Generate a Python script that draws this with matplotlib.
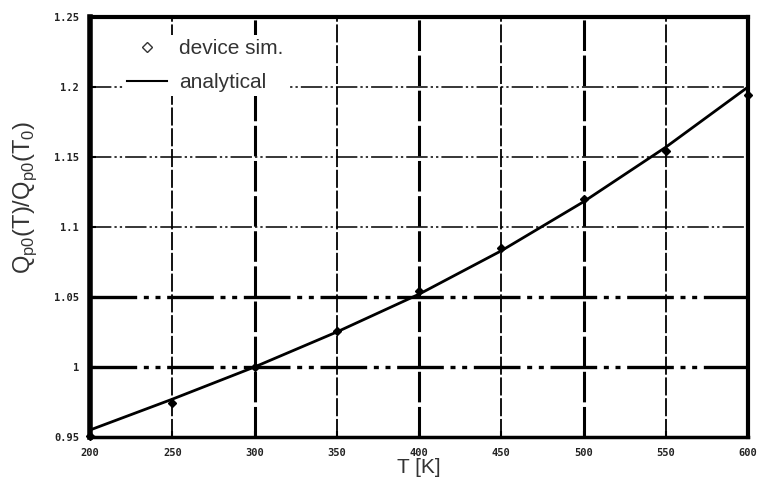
import matplotlib
matplotlib.use("Agg")
import matplotlib.pyplot as plt
from matplotlib.lines import Line2D

plt.rcParams["mathtext.fontset"] = "custom"
plt.rcParams["mathtext.rm"] = "Liberation Sans"

T_sim = [200, 250, 300, 350, 400, 450, 500, 550, 600]
Q_sim = [0.951, 0.974, 1.0, 1.0255, 1.054, 1.085, 1.12, 1.154, 1.194]

T_ana = [200, 250, 300, 350, 400, 450, 500, 550, 600]
Q_ana = [0.955, 0.977, 1.0, 1.025, 1.052, 1.083, 1.118, 1.157, 1.2]

x_ticks = [200, 250, 300, 350, 400, 450, 500, 550, 600]
y_ticks = [0.95, 1.0, 1.05, 1.1, 1.15, 1.2, 1.25]
y_labels = ["0.95", "1", "1.05", "1.1", "1.15", "1.2", "1.25"]

fig = plt.figure(figsize=(7.64, 4.84), dpi=100)
ax = fig.add_axes([90 / 764, 47 / 484, 658 / 764, 420 / 484])

ax.set_xlim(200, 600)
ax.set_ylim(0.95, 1.25)

# grid
for x in x_ticks[1:-1]:
    lw = 2.2 if x in (300, 400, 500) else 1.3
    ax.axvline(x, color="black", lw=lw, ls=(0, (10, 1.5)), zorder=1)
for y in y_ticks[1:-1]:
    lw = 2.4 if y in (1.0, 1.05) else 1.1
    ax.axhline(y, color="black", lw=lw, ls=(0, (14, 2, 1.5, 2, 1.5, 2)), zorder=1)

ax.plot(T_ana, Q_ana, color="black", lw=2.0, zorder=3)
ax.plot(T_sim, Q_sim, ls="none", marker="D", ms=4.5, color="black", zorder=4, clip_on=False)

ax.set_xticks(x_ticks)
ax.set_xticklabels([str(v) for v in x_ticks])
ax.set_yticks(y_ticks)
ax.set_yticklabels(y_labels)
ax.tick_params(direction="in", length=4, width=1.5, labelsize=7.5, pad=8)
for lab in ax.get_xticklabels() + ax.get_yticklabels():
    lab.set_family("DejaVu Sans Mono")
    lab.set_fontweight("bold")
    lab.set_color("#222222")

ax.spines["left"].set_linewidth(4)
ax.spines["top"].set_linewidth(3)
ax.spines["right"].set_linewidth(3)
ax.spines["bottom"].set_linewidth(2.5)

ax.set_xlabel("T [K]", fontsize=15, color="#333333", labelpad=0, family="Liberation Sans")
ax.set_ylabel(r"Q$_{\rm p0}$(T)/Q$_{\rm p0}$(T$_{\rm 0}$)", fontsize=17, color="#333333",
              family="Liberation Sans")
ax.yaxis.set_label_coords(-0.078, 0.57)

handles = [
    Line2D([], [], ls="none", marker="D", ms=5, mfc="white", mec="#333333", mew=1.0),
    Line2D([], [], color="black", lw=1.5),
]
leg = ax.legend(handles, ["device sim.", "analytical"], loc="upper left",
                bbox_to_anchor=(0.05, 0.957), borderaxespad=0, frameon=True,
                prop={"family": "Liberation Sans", "size": 15},
                handlelength=1.9, labelspacing=0.7, borderpad=0.2, handletextpad=0.6)
leg.get_frame().set_edgecolor("none")
leg.get_frame().set_facecolor("white")
leg.get_frame().set_alpha(1)
for t in leg.get_texts():
    t.set_color("#333333")

fig.savefig("out.png", dpi=100)
